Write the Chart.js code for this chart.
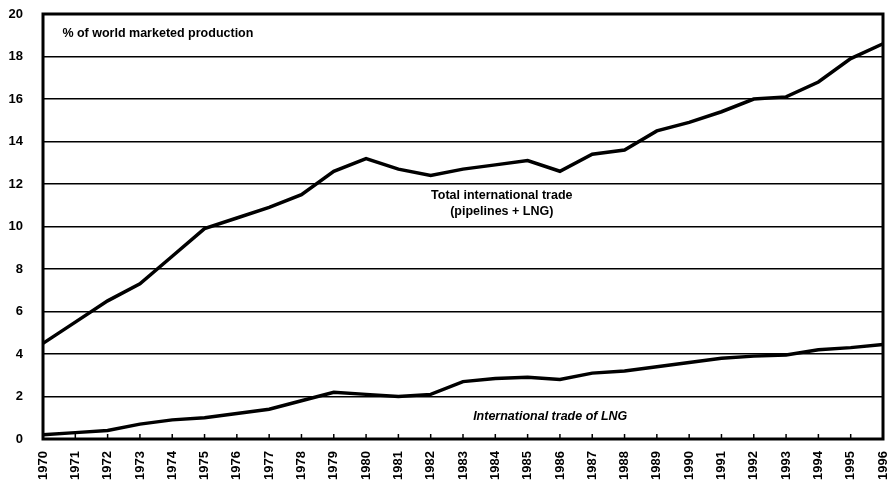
<!DOCTYPE html>
<html>
<head>
<meta charset="utf-8">
<script src="https://cdn.jsdelivr.net/npm/chart.js@4/dist/chart.umd.min.js"></script>
<style>
  html, body { margin: 0; padding: 0; background: #fff; }
  #wrap { width: 889px; height: 487px; }
</style>
</head>
<body>
<div id="wrap"><canvas id="chart" width="889" height="487"></canvas></div>
<script>
// data
const years = ['1970','1971','1972','1973','1974','1975','1976','1977','1978','1979',
  '1980','1981','1982','1983','1984','1985','1986','1987','1988','1989',
  '1990','1991','1992','1993','1994','1995','1996'];
const totalTrade = [4.5, 5.5, 6.5, 7.3, 8.6, 9.9, 10.4, 10.9, 11.5, 12.6,
  13.2, 12.7, 12.4, 12.7, 12.9, 13.1, 12.6, 13.4, 13.6, 14.5,
  14.9, 15.4, 16.0, 16.1, 16.8, 17.9, 18.6];
const lngTrade = [0.2, 0.3, 0.4, 0.7, 0.9, 1.0, 1.2, 1.4, 1.8, 2.2,
  2.1, 2.0, 2.1, 2.7, 2.85, 2.9, 2.8, 3.1, 3.2, 3.4,
  3.6, 3.8, 3.9, 3.95, 4.2, 4.3, 4.45];
const yTicks = [0, 2, 4, 6, 8, 10, 12, 14, 16, 18, 20];

const FONT = "'Liberation Sans', Arial, sans-serif";

// text notes inside the plot, placed in data units
const notes = [
  { text: '% of world marketed production', x: 0.6, y: 19.1, align: 'left', style: 'bold' },
  { text: 'Total international trade', x: 14.2, y: 11.45, align: 'center', style: 'bold' },
  { text: '(pipelines + LNG)', x: 14.2, y: 10.7, align: 'center', style: 'bold' },
  { text: 'International trade of LNG', x: 15.7, y: 1.05, align: 'center', style: 'italic bold' }
];

const framePlugin = {
  id: 'frame',
  afterDatasetsDraw(chart) {
    const { ctx, chartArea: a, scales } = chart;
    ctx.save();
    // little upward ticks on the bottom axis
    ctx.strokeStyle = '#000';
    ctx.lineWidth = 1.5;
    for (let i = 1; i < years.length - 1; i++) {
      const px = scales.x.getPixelForTick(i);
      ctx.beginPath();
      ctx.moveTo(px, a.bottom);
      ctx.lineTo(px, a.bottom - 5);
      ctx.stroke();
    }
    // heavy frame
    ctx.lineWidth = 3;
    ctx.strokeRect(a.left, a.top, a.right - a.left, a.bottom - a.top);
    // notes
    ctx.fillStyle = '#000';
    ctx.textBaseline = 'middle';
    notes.forEach(n => {
      ctx.font = n.style + ' 12.5px ' + FONT;
      ctx.textAlign = n.align;
      ctx.fillText(n.text, scales.x.getPixelForValue(n.x), scales.y.getPixelForValue(n.y));
    });
    ctx.restore();
  }
};

new Chart(document.getElementById('chart'), {
  type: 'line',
  data: {
    labels: years,
    datasets: [
      { label: 'Total international trade (pipelines + LNG)', data: totalTrade,
        borderColor: '#000', borderWidth: 3.5, pointRadius: 0, tension: 0 },
      { label: 'International trade of LNG', data: lngTrade,
        borderColor: '#000', borderWidth: 3.5, pointRadius: 0, tension: 0 }
    ]
  },
  options: {
    responsive: false,
    animation: false,
    layout: { padding: { top: 0, right: 0, left: 0, bottom: 0 } },
    plugins: { legend: { display: false }, tooltip: { enabled: false } },
    scales: {
      x: {
        offset: false,
        grid: { display: false },
        border: { display: false },
        ticks: {
          color: '#000', minRotation: 90, maxRotation: 90, autoSkip: false,
          padding: 4, font: { family: FONT, size: 13, weight: 'bold' }
        },
        afterFit(s) { s.height = 48; s.paddingRight = 6; s.paddingLeft = 0; }
      },
      y: {
        min: 0, max: 20,
        afterBuildTicks(s) { s.ticks = yTicks.map(v => ({ value: v })); },
        grid: { color: '#000', lineWidth: 1.5, drawTicks: false },
        border: { display: false },
        ticks: {
          color: '#000', padding: 20, align: 'center',
          font: { family: FONT, size: 13, weight: 'bold' }
        },
        afterFit(s) { s.width = 43; s.paddingTop = 14; s.paddingBottom = 0; }
      }
    }
  },
  plugins: [framePlugin]
});
</script>
</body>
</html>
